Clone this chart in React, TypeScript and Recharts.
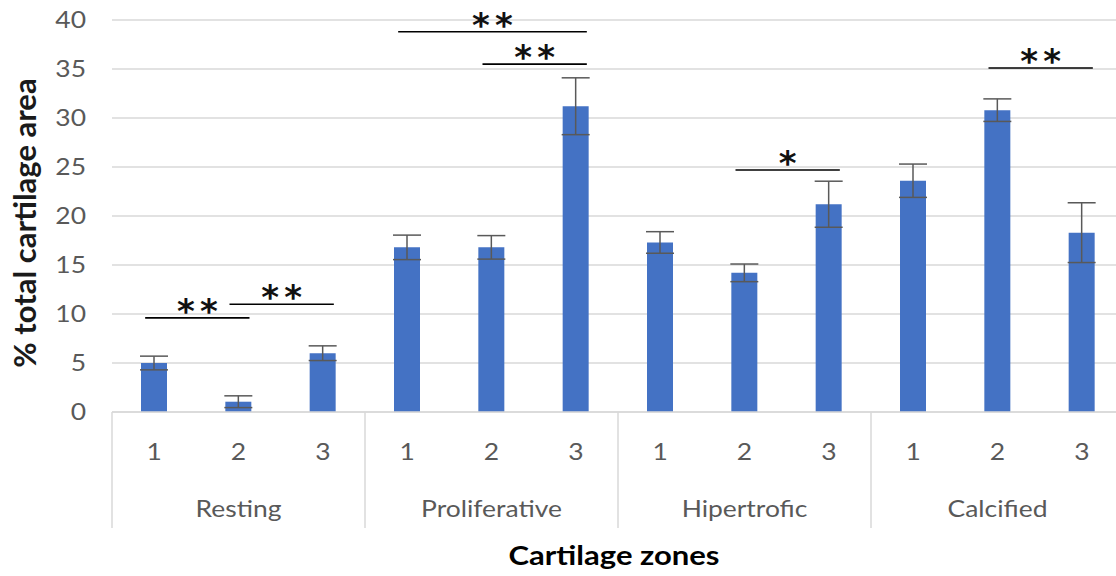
import React from "react";
import {
  BarChart,
  Bar,
  XAxis,
  YAxis,
  CartesianGrid,
  ErrorBar,
  ReferenceLine,
} from "recharts";

const zones = ["Resting", "Proliferative", "Hipertrofic", "Calcified"];
const subzones = ["1", "2", "3"];
const areaValues = [5.0, 1.05, 6.0, 16.8, 16.8, 31.2, 17.3, 14.2, 21.2, 23.6, 30.8, 18.3];
const areaErrors = [0.7, 0.6, 0.75, 1.25, 1.2, 2.9, 1.1, 0.9, 2.35, 1.7, 1.15, 3.05];
const yTicks = [0, 5, 10, 15, 20, 25, 30, 35, 40];

// significance brackets (from bar, to bar, height in % units, label)
const sigFrom = ["Resting-1", "Resting-2", "Proliferative-1", "Proliferative-2", "Hipertrofic-2", "Calcified-2"];
const sigTo = ["Resting-2", "Resting-3", "Proliferative-3", "Proliferative-3", "Hipertrofic-3", "Calcified-3"];
const sigLevel = [9.6, 11.0, 38.8, 35.5, 24.7, 35.1];
const sigStars = ["**", "**", "**", "**", "*", "**"];

const data = zones.flatMap((zone, i) =>
  subzones.map((sub, j) => ({
    key: `${zone}-${sub}`,
    zone,
    sub,
    value: areaValues[i * 3 + j],
    err: areaErrors[i * 3 + j],
  }))
);

const W = 1130;
const H = 576;
const LEFT = 112;
const RIGHT = 6;
const PLOT_BOTTOM = 412;
const ZONE_BAND = (W - LEFT - RIGHT) / zones.length;
const FONT = "Lato, 'Open Sans', sans-serif";
const GREY = "#595959";
const SX = 1.15;

const SubTick = (props: any) => {
  const { x, payload } = props;
  const label = String(payload.value).split("-")[1];
  return (
    <text
      transform={`translate(${x},460) scale(${SX},1)`}
      textAnchor="middle"
      fontFamily={FONT}
      fontSize={23}
      fill={GREY}
    >
      {label}
    </text>
  );
};

const ZoneTick = (props: any) => {
  const { x, payload, index } = props;
  const left = x - ZONE_BAND / 2;
  return (
    <g>
      <line x1={left} x2={left} y1={PLOT_BOTTOM} y2={528} stroke="#d9d9d9" strokeWidth={1.5} />
      {index === zones.length - 1 && (
        <line x1={left + ZONE_BAND} x2={left + ZONE_BAND} y1={PLOT_BOTTOM} y2={528} stroke="#d9d9d9" strokeWidth={1.5} />
      )}
      <text
        transform={`translate(${x},517) scale(${SX},1)`}
        textAnchor="middle"
        fontFamily={FONT}
        fontSize={23}
        fill={GREY}
      >
        {payload.value}
      </text>
    </g>
  );
};

const YTick = (props: any) => {
  const { y, payload } = props;
  return (
    <text
      transform={`translate(86,${y}) scale(${SX},1)`}
      textAnchor="end"
      dy="0.36em"
      fontFamily={FONT}
      fontSize={23}
      fill={GREY}
    >
      {payload.value}
    </text>
  );
};

const SigMark = (props: any) => {
  const { x1, x2, y1, stars } = props;
  const a = x1 - 9;
  const b = x2 + 11;
  const cx = (a + b) / 2;
  const chars = String(stars).split("");
  const gap = 23;
  return (
    <g>
      <line x1={a} x2={b} y1={y1} y2={y1} stroke="#000" strokeWidth={1.6} />
      {chars.map((c, i) => (
        <text
          key={i}
          x={cx + (i - (chars.length - 1) / 2) * gap}
          y={y1 + 5}
          textAnchor="middle"
          fontFamily="'DejaVu Sans', sans-serif"
          fontWeight="bold"
          fontSize={34}
          fill="#111"
        >
          {c}
        </text>
      ))}
    </g>
  );
};

export default function App() {
  return (
    <div style={{ position: "absolute", left: 0, top: 0, width: 1116, height: 576, overflow: "hidden", background: "#fff" }}>
      <BarChart width={W} height={H} data={data} margin={{ top: 20, right: RIGHT, bottom: 0, left: 0 }}>
        <CartesianGrid vertical={false} stroke="#d9d9d9" strokeWidth={1.5} />
        <XAxis
          dataKey="key"
          height={70}
          interval={0}
          tickLine={false}
          axisLine={{ stroke: "#d9d9d9", strokeWidth: 1.5 }}
          tick={<SubTick />}
        />
        <XAxis
          xAxisId="zone"
          dataKey="zone"
          allowDuplicatedCategory={false}
          height={94}
          interval={0}
          tickLine={false}
          axisLine={false}
          tick={<ZoneTick />}
          label={{
            content: () => (
              <text
                transform={`translate(${LEFT + (W - LEFT - RIGHT) / 2 - 4},565) scale(${SX},1)`}
                textAnchor="middle"
                fontFamily={FONT}
                fontWeight="bold"
                fontSize={27}
                fill="#000"
              >
                Cartilage zones
              </text>
            ),
          }}
        />
        <YAxis
          width={LEFT}
          domain={[0, 40]}
          ticks={yTicks}
          interval={0}
          axisLine={false}
          tickLine={false}
          tick={<YTick />}
          label={{
            content: () => (
              <text
                transform="translate(36,223) rotate(-90)"
                textAnchor="middle"
                fontFamily={FONT}
                fontWeight="bold"
                fontSize={31}
                fill="#1a1a1a"
              >
                % total cartilage area
              </text>
            ),
          }}
        />
        <Bar dataKey="value" fill="#4472C4" barSize={26} isAnimationActive={false}>
          <ErrorBar dataKey="err" width={14} stroke={GREY} strokeWidth={1.5} direction="y" isAnimationActive={false} />
        </Bar>
        {sigFrom.map((from, i) => (
          <ReferenceLine
            key={i}
            segment={[
              { x: from, y: sigLevel[i] },
              { x: sigTo[i], y: sigLevel[i] },
            ]}
            shape={(p: any) => <SigMark {...p} stars={sigStars[i]} />}
          />
        ))}
      </BarChart>
    </div>
  );
}
